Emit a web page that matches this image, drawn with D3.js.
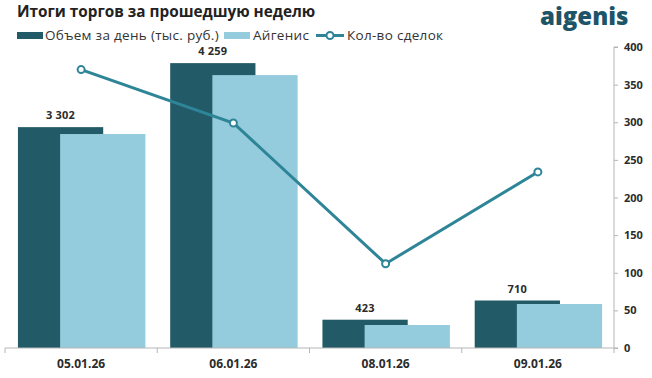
<!DOCTYPE html>
<html><head><meta charset="utf-8">
<script src="https://cdn.jsdelivr.net/npm/d3@7"></script>
<style>
html,body{margin:0;padding:0;background:#fff;}
svg text{font-family:"Open Sans","Noto Sans",sans-serif;}
</style></head>
<body><svg id="c" width="652" height="378"></svg>
<script>
const categories = ["05.01.26","06.01.26","08.01.26","09.01.26"];
const volumeDay = [3302, 4259, 423, 710];
const aigenis = [3199, 4080, 344, 658];
const deals = [370, 299, 112, 234];
const rightTicks = [0,50,100,150,200,250,300,350,400];

const darkC = "#225a68", lightC = "#94cbdd", lineC = "#2e8597", textC = "#2b2b2b";
const svg = d3.select("#c");
const x0 = 5, x1 = 614, yBase = 348, yTop = 47;

const x = d3.scaleBand().domain(categories).range([x0, x1]).paddingInner(0).paddingOuter(0);
const yL = d3.scaleLinear().domain([0, 4500]).range([yBase, yTop]);
const yR = d3.scaleLinear().domain([0, 400]).range([yBase, yTop]);
const fmt = d3.formatLocale({decimal:",", thousands:"\u00a0", grouping:[3], currency:["",""]}).format(",d");

const bw = x.bandwidth();
const barW = bw * 0.56, off = bw * 0.085, shift = bw * 0.277;

// dark bars
svg.append("g").selectAll("rect").data(categories).join("rect")
  .attr("x", (d) => x(d) + off).attr("width", barW)
  .attr("y", (d,i) => yL(volumeDay[i])).attr("height", (d,i) => yBase - yL(volumeDay[i]))
  .attr("fill", darkC);
// light bars
svg.append("g").selectAll("rect").data(categories).join("rect")
  .attr("x", (d) => x(d) + off + shift).attr("width", barW)
  .attr("y", (d,i) => yL(aigenis[i])).attr("height", (d,i) => yBase - yL(aigenis[i]))
  .attr("fill", lightC);
// value labels
svg.append("g").selectAll("text").data(categories).join("text")
  .attr("x", (d) => x(d) + off + barW/2).attr("y", (d,i) => yL(volumeDay[i]) - 8)
  .attr("text-anchor","middle").attr("font-size",11).attr("font-weight",700).attr("fill",textC)
  .attr("letter-spacing",0.2)
  .text((d,i) => fmt(volumeDay[i]));

// bottom axis
const xa = svg.append("g").attr("transform",`translate(0,${yBase})`);
xa.append("line").attr("x1",x0).attr("x2",x1).attr("stroke","#b5b5b5").attr("stroke-width",1);
xa.selectAll("line.t").data(d3.range(categories.length+1)).join("line").attr("class","t")
  .attr("x1",(i)=>x0+i*bw).attr("x2",(i)=>x0+i*bw).attr("y1",0).attr("y2",5).attr("stroke","#b5b5b5");
xa.selectAll("text").data(categories).join("text")
  .attr("x",(d)=>x(d)+bw/2).attr("y",20).attr("text-anchor","middle")
  .attr("font-size",12).attr("font-weight",700).attr("fill",textC).text(d=>d);

// right axis
const ra = svg.append("g").attr("transform",`translate(${x1},0)`)
  .call(d3.axisRight(yR).tickValues(rightTicks).tickSize(4).tickPadding(6).tickFormat(d3.format("d")));
ra.select(".domain").attr("stroke","#b5b5b5").attr("d",`M4,${yTop}H0V${yBase}H4`);
ra.selectAll(".tick line").attr("stroke","#b5b5b5");
ra.selectAll(".tick text").attr("font-size",11).attr("font-weight",700).attr("fill",textC)
  .attr("font-family","'Open Sans',sans-serif");

// line
const line = d3.line().x((d,i)=>x(categories[i])+bw/2).y(d=>yR(d));
svg.append("path").datum(deals).attr("d",line).attr("fill","none").attr("stroke",lineC).attr("stroke-width",3);
svg.append("g").selectAll("circle").data(deals).join("circle")
  .attr("cx",(d,i)=>x(categories[i])+bw/2).attr("cy",d=>yR(d)).attr("r",3.5)
  .attr("fill","#fff").attr("stroke",lineC).attr("stroke-width",2);

// title
svg.append("text").attr("x",17).attr("y",17).attr("font-size",15.3).attr("font-weight",700)
  .attr("fill","#222").text("Итоги торгов за прошедшую неделю");

// legend
const lg = svg.append("g").attr("font-size",13.5).attr("letter-spacing",0.3).attr("fill","#333");
lg.append("rect").attr("x",17).attr("y",32).attr("width",26).attr("height",7).attr("fill",darkC);
lg.append("text").attr("x",45).attr("y",40).attr("fill","#333").text("Объем за день (тыс. руб.)");
lg.append("rect").attr("x",224).attr("y",32).attr("width",26).attr("height",7).attr("fill",lightC);
lg.append("text").attr("x",253).attr("y",40).attr("fill","#333").text("Айгенис");
lg.append("line").attr("x1",316).attr("x2",344).attr("y1",35.5).attr("y2",35.5).attr("stroke",lineC).attr("stroke-width",3);
lg.append("circle").attr("cx",330).attr("cy",35.5).attr("r",3.5).attr("fill","#fff").attr("stroke",lineC).attr("stroke-width",2);
lg.append("text").attr("x",347).attr("y",40).attr("fill","#333").text("Кол-во сделок");

// logo
svg.append("text").attr("x",540).attr("y",25).attr("font-size",24).attr("font-weight",800)
  .attr("fill","#1e5468").attr("font-family","Lato, 'Open Sans', sans-serif").text("aigenis");
</script></body></html>
